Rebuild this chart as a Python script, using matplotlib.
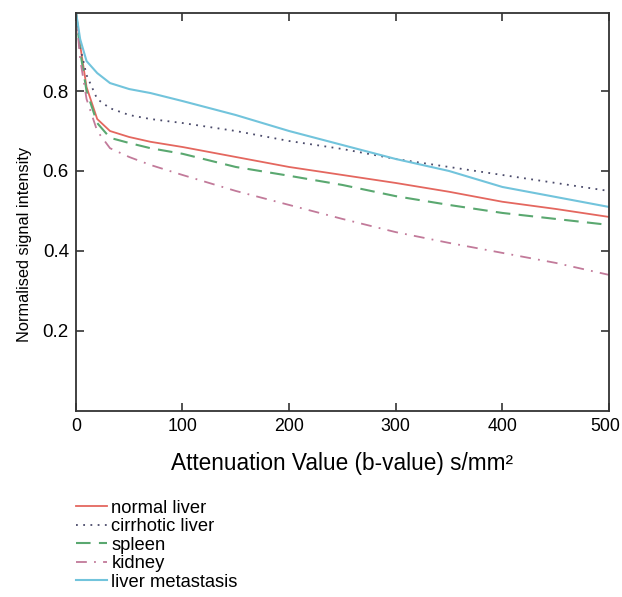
import numpy as np
import matplotlib.pyplot as plt
from matplotlib.transforms import ScaledTranslation

plt.rcParams['font.family'] = ['Liberation Sans', 'DejaVu Sans']

# b-values (s/mm^2)
b_values = [0, 4, 10, 20, 32, 50, 70, 100, 150, 200, 250, 300, 350, 400, 450, 500]

# normalised signal intensity
normal_liver = [1.0, 0.915, 0.81, 0.73, 0.70, 0.685, 0.673, 0.66, 0.635, 0.61, 0.59, 0.57, 0.548, 0.523, 0.505, 0.485]
cirrhotic_liver = [1.0, 0.91, 0.84, 0.78, 0.757, 0.74, 0.73, 0.72, 0.70, 0.675, 0.655, 0.63, 0.61, 0.59, 0.57, 0.55]
spleen = [1.0, 0.90, 0.80, 0.72, 0.683, 0.67, 0.657, 0.643, 0.61, 0.588, 0.565, 0.537, 0.515, 0.495, 0.48, 0.465]
kidney = [1.0, 0.88, 0.78, 0.70, 0.657, 0.635, 0.615, 0.59, 0.55, 0.515, 0.48, 0.447, 0.42, 0.395, 0.37, 0.34]
liver_metastasis = [1.0, 0.93, 0.875, 0.845, 0.82, 0.805, 0.795, 0.775, 0.74, 0.70, 0.665, 0.63, 0.60, 0.56, 0.535, 0.51]

fig = plt.figure(figsize=(6.22, 5.97), dpi=100)
ax = fig.add_axes([0.122, 0.312, 0.857, 0.666])

ax.plot(b_values, normal_liver, color='#e4675f', lw=1.3, label='normal liver')
ax.plot(b_values, cirrhotic_liver, color='#4a4a6a', lw=1.3, ls=(0, (1, 3)), label='cirrhotic liver')
ax.plot(b_values, spleen, color='#5aa870', lw=1.5, ls=(0, (7, 4)), label='spleen')
ax.plot(b_values, kidney, color='#c27a9a', lw=1.3, ls=(0, (6, 4, 1, 4)), label='kidney')
ax.plot(b_values, liver_metastasis, color='#72c4dc', lw=1.5, label='liver metastasis')

ax.set_xlim(0, 500)
ax.set_ylim(0, 0.995)
ax.set_xticks([0, 100, 200, 300, 400, 500])
ax.set_yticks([0.2, 0.4, 0.6, 0.8])
ax.tick_params(direction='in', top=True, right=True, length=6, width=1.2,
               labelsize=13.5, color='#333333', pad=5)
ax.tick_params(axis='x', labelsize=12.8)
for s in ax.spines.values():
    s.set_color('#333333')
    s.set_linewidth(1.3)

# last x label sits against the right edge, nudge it in a bit
last = ax.get_xticklabels()[-1]
last.set_transform(last.get_transform() + ScaledTranslation(-3 / 72, 0, fig.dpi_scale_trans))

ax.set_xlabel('Attenuation Value (b-value) s/mm²', fontsize=16.3)
ax.xaxis.set_label_coords(0.5, -0.105)
ax.set_ylabel('Normalised signal intensity', fontsize=11.8, va='center')
ax.yaxis.set_label_coords(-0.097, 0.417)

fig.legend(loc='upper left', bbox_to_anchor=(0.107, 0.178), frameon=False,
           fontsize=13.2, handlelength=1.7, handletextpad=0.25, labelspacing=0.08,
           borderpad=0)

fig.savefig('out.png', dpi=100)
